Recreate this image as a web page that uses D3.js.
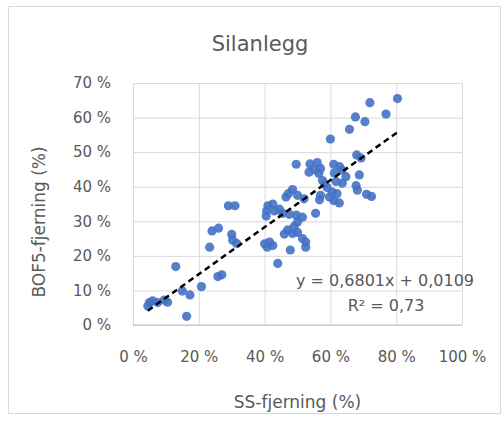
<!DOCTYPE html>
<html>

<head>
  <meta charset="utf-8">
  <title>Silanlegg</title>
  <script src="https://d3js.org/d3.v7.min.js"></script>
  <style>
    body {
      margin: 0;
      background: #fff;
    }

    text {
      font-family: 'DejaVu Sans', sans-serif;
      fill: #595959;
    }

    .grid line {
      stroke: #d9d9d9;
      stroke-width: 1px;
    }

    .grid path {
      display: none;
    }
  </style>
</head>

<body>
  <div id="chart"></div>
  <script>
    // SS-fjerning (x) og BOF5-fjerning (y), andel
    const ssRemoval = [
      0.804, 0.720, 0.769, 0.676, 0.705, 0.658, 0.600, 0.680, 0.693,
      0.496, 0.538, 0.560, 0.550, 0.570, 0.535, 0.565, 0.610, 0.628, 0.612, 0.635, 0.688, 0.647,
      0.617, 0.582, 0.576, 0.636, 0.678, 0.682, 0.590, 0.605, 0.620, 0.597, 0.610, 0.627, 0.570, 0.567, 0.710, 0.725,
      0.485, 0.472, 0.465, 0.500, 0.520,
      0.555, 0.410, 0.425, 0.445, 0.406, 0.430, 0.405, 0.455, 0.475, 0.496, 0.515, 0.290, 0.310,
      0.500, 0.490, 0.470, 0.485, 0.500, 0.460, 0.515, 0.525, 0.260, 0.240, 0.300, 0.303, 0.315,
      0.233, 0.400, 0.415, 0.425, 0.408, 0.478, 0.525, 0.440,
      0.130, 0.258, 0.270, 0.208, 0.150, 0.173, 0.163, 0.095, 0.105, 0.050, 0.060, 0.075, 0.045
    ];
    const bodRemoval = [
      0.655, 0.643, 0.610, 0.602, 0.588, 0.566, 0.538, 0.492, 0.483,
      0.465, 0.466, 0.470, 0.450, 0.453, 0.442, 0.438, 0.465, 0.458, 0.440, 0.448, 0.434, 0.429,
      0.415, 0.408, 0.418, 0.410, 0.403, 0.390, 0.398, 0.385, 0.380, 0.370, 0.360, 0.353, 0.375, 0.362, 0.378, 0.372,
      0.392, 0.380, 0.370, 0.375, 0.365,
      0.323, 0.345, 0.350, 0.335, 0.330, 0.330, 0.315, 0.323, 0.320, 0.318, 0.312, 0.345, 0.345,
      0.298, 0.285, 0.275, 0.265, 0.268, 0.263, 0.250, 0.240, 0.280, 0.272, 0.262, 0.245, 0.236,
      0.225, 0.235, 0.240, 0.230, 0.225, 0.217, 0.225, 0.178,
      0.169, 0.140, 0.145, 0.111, 0.098, 0.087, 0.025, 0.072, 0.066, 0.065, 0.070, 0.065, 0.055
    ];
    const xTicks = [0, 0.2, 0.4, 0.6, 0.8, 1.0];
    const yTicks = [0, 0.1, 0.2, 0.3, 0.4, 0.5, 0.6, 0.7];
    const slope = 0.6801;
    const intercept = 0.0109;
    const rSquared = 0.73;

    const W = 504, H = 423;
    const margin = { top: 83, right: 42, bottom: 98, left: 133 };
    const width = W - margin.left - margin.right,
      height = H - margin.top - margin.bottom;

    const svg = d3.select("#chart")
      .append("svg")
      .attr("width", W)
      .attr("height", H);

    // chart frame
    svg.append("rect")
      .attr("x", 8.5).attr("y", 6.5)
      .attr("width", 492).attr("height", 407)
      .attr("fill", "#fff")
      .attr("stroke", "#d9d9d9");

    const g = svg.append("g")
      .attr("transform", "translate(" + margin.left + "," + margin.top + ")");

    const x = d3.scaleLinear().domain([0, 1]).range([0, width]);
    const y = d3.scaleLinear().domain([0, 0.7]).range([height, 0]);
    const pct = d => Math.round(d * 100) + " %";

    // gridlines
    g.append("g")
      .attr("class", "grid")
      .call(d3.axisLeft(y).tickValues(yTicks).tickSize(-width).tickFormat(""));
    g.append("g")
      .attr("class", "grid")
      .call(d3.axisBottom(x).tickValues(xTicks).tickSize(height).tickFormat(""));

    // tick labels
    const yAxis = g.append("g")
      .call(d3.axisLeft(y).tickValues(yTicks).tickSize(0).tickPadding(22).tickFormat(pct));
    yAxis.select(".domain").remove();
    yAxis.selectAll("text").style("font-size", "15px");

    const xAxis = g.append("g")
      .attr("transform", "translate(0," + height + ")")
      .call(d3.axisBottom(x).tickValues(xTicks).tickSize(0).tickPadding(26).tickFormat(pct));
    xAxis.select(".domain").remove();
    xAxis.selectAll("text").style("font-size", "15px");

    // bottom axis line
    g.append("line")
      .attr("x1", 0).attr("x2", width)
      .attr("y1", height).attr("y2", height)
      .attr("stroke", "#bfbfbf");

    // points
    const points = ssRemoval.map((v, i) => ({ x: v, y: bodRemoval[i] }));
    g.selectAll("circle")
      .data(points)
      .enter()
      .append("circle")
      .attr("cx", d => x(d.x))
      .attr("cy", d => y(d.y))
      .attr("r", 4.6)
      .attr("fill", "#4472c4")
      .attr("fill-opacity", 0.9);

    // linear trendline over data range
    const ext = d3.extent(ssRemoval);
    g.append("line")
      .attr("x1", x(ext[0])).attr("y1", y(slope * ext[0] + intercept))
      .attr("x2", x(ext[1])).attr("y2", y(slope * ext[1] + intercept))
      .attr("stroke", "#000")
      .attr("stroke-width", 2.5)
      .attr("stroke-dasharray", "6,4");

    // equation
    g.append("text")
      .attr("x", 252).attr("y", 203)
      .attr("text-anchor", "middle")
      .style("font-size", "16px")
      .text("y = " + String(slope).replace(".", ",") + "x + " + String(intercept).replace(".", ","));
    g.append("text")
      .attr("x", 253).attr("y", 228)
      .attr("text-anchor", "middle")
      .style("font-size", "16px")
      .text("R² = " + String(rSquared).replace(".", ","));

    // title and axis titles
    svg.append("text")
      .attr("x", 260).attr("y", 51)
      .attr("text-anchor", "middle")
      .style("font-size", "21px")
      .text("Silanlegg");

    svg.append("text")
      .attr("x", margin.left + width / 2).attr("y", 408)
      .attr("text-anchor", "middle")
      .style("font-size", "17px")
      .text("SS-fjerning (%)");

    svg.append("text")
      .attr("transform", "translate(45,222) rotate(-90)")
      .attr("text-anchor", "middle")
      .style("font-size", "17px")
      .text("BOF5-fjerning (%)");
  </script>
</body>

</html>
